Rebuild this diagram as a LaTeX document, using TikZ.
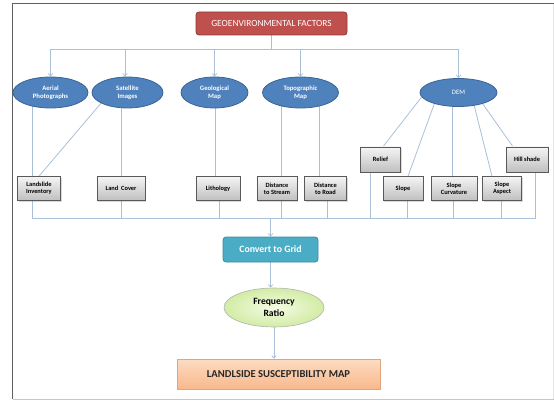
\documentclass[tikz,border=0pt]{standalone}
\usepackage{fontspec}
\setmainfont{Carlito}
\usetikzlibrary{shapes.geometric,arrows.meta,shadows,backgrounds}
\definecolor{connc}{HTML}{A9C0D8}
\definecolor{ellfill}{HTML}{4F81BD}
\definecolor{elldraw}{HTML}{3A6496}
\definecolor{redfill}{HTML}{C0504D}
\definecolor{reddraw}{HTML}{8E3A38}
\definecolor{aquafill}{HTML}{4BACC6}
\definecolor{aquadraw}{HTML}{3A8BA1}
\definecolor{greenout}{HTML}{D2ECA4}
\definecolor{greentop}{HTML}{F4FBE6}
\definecolor{peachtop}{HTML}{FCDCC2}
\definecolor{peachbot}{HTML}{F8B88C}
\definecolor{peachdraw}{HTML}{E3A57C}
\begin{document}
\begin{tikzpicture}[x=1pt,y=-1pt,
  conn/.style={draw=connc, line width=0.8pt},
  arr/.style={conn, -{Straight Barb[length=2.5pt,width=4.5pt]}},
  ell/.style={ellipse, fill=ellfill, draw=elldraw, line width=0.8pt, text=white,
    font=\fontsize{6.7}{7.6}\selectfont\bfseries, align=center, inner sep=0pt},
  gbox/.style={rectangle, top color=gray!8, bottom color=gray!50, draw=gray!70!black,
    line width=0.6pt, font=\fontsize{6.4}{7.2}\selectfont\bfseries, align=center,
    inner sep=0pt, minimum height=24pt,
    drop shadow={shadow xshift=1pt, shadow yshift=-1pt, opacity=0.3}},
]
\useasboundingbox (0,0) rectangle (554,401);
% frame
\draw[gray!75!black, line width=1pt] (12.5,399) -- (12.5,4) -- (554,4);
\draw[gray!45, line width=1.2pt] (12.5,399.5) -- (554,399.5);
\draw[gray!20, line width=0.8pt] (553,4) -- (553,399);

% top box
\node[rectangle, rounded corners=3pt, fill=redfill, draw=reddraw, line width=0.8pt,
  minimum width=151pt, minimum height=23pt, text=white,
  font=\fontsize{9.4}{10}\selectfont] (geo) at (271.5,23.5) {GEOENVIRONMENTAL FACTORS};

% ellipses
\node[ell, minimum width=75pt, minimum height=31pt] (aer) at (50.5,92.5) {Aerial\\Photographs};
\node[ell, minimum width=71pt, minimum height=31pt] (sat) at (127.5,92.5) {Satellite\\Images};
\node[ell, minimum width=67pt, minimum height=31pt] (gmap) at (214.5,92.5) {Geological\\Map};
\node[ell, minimum width=76pt, minimum height=31pt] (topo) at (300.5,92.5) {Topographic\\Map};
\node[ell, minimum width=77pt, minimum height=28pt, font=\fontsize{6.7}{7.6}\selectfont] (dem) at (458.5,92.5) {DEM};

% boxes row 1
\node[gbox, minimum width=43pt] (inv) at (39,188.5) {Landslide\\Inventory};
\node[gbox, minimum width=48pt] (lc) at (121,188.5) {Land\ \ Cover};
\node[gbox, minimum width=44pt] (lith) at (218,188.5) {Lithology};
\node[gbox, minimum width=40pt] (dstr) at (277,188.5) {Distance\\to Stream};
\node[gbox, minimum width=42pt] (droad) at (325.5,188.5) {Distance\\to Road};
\node[gbox, minimum width=40pt] (slope) at (403,188.5) {Slope};
\node[gbox, minimum width=46pt] (scurv) at (454,188.5) {Slope\\Curvature};
\node[gbox, minimum width=39pt] (sasp) at (502,188.5) {Slope\\Aspect};
% boxes row 2
\node[gbox, minimum width=40pt, minimum height=25pt] (relief) at (380.5,159.5) {Relief};
\node[gbox, minimum width=42pt, minimum height=25pt] (hill) at (527,159.5) {Hill shade};

% lower chain
\node[rectangle, rounded corners=3pt, fill=aquafill, draw=aquadraw, line width=0.8pt,
  minimum width=95pt, minimum height=25pt, text=white,
  font=\fontsize{9.8}{10}\selectfont\bfseries] (grid) at (270.5,249.5) {Convert to Grid};
\node[ellipse, inner color=greentop, outer color=greenout, draw=gray!60, line width=0.6pt,
  minimum width=100pt, minimum height=39pt, align=center, inner sep=0pt,
  font=\fontsize{9.6}{11.5}\selectfont\bfseries] (fr) at (274,307.5) {Frequency\\Ratio};
\node[rectangle, top color=peachtop, bottom color=peachbot, draw=peachdraw, line width=0.6pt,
  minimum width=203pt, minimum height=30pt,
  font=\fontsize{10.6}{11}\selectfont\bfseries, text=black!85] (lsm) at (278.5,374) {LANDLSIDE SUSCEPTIBILITY MAP};

% helper coordinates
\coordinate (top) at (0,49);
\coordinate (bus) at (0,218.5);
\coordinate (xa) at (32,0);
\coordinate (xb) at (121,0);
\coordinate (xc) at (215,0);
\coordinate (xc2) at (219,0);
\coordinate (xd) at (281,0);
\coordinate (xe) at (319,0);
\coordinate (xe2) at (327,0);
\coordinate (xf) at (370,0);
\coordinate (xg) at (407,0);
\coordinate (xh) at (453,0);
\coordinate (xi) at (501,0);
\coordinate (xj) at (535,0);

\begin{pgfonlayer}{background}
% top distribution
\draw[conn] (geo.south) -- (top -| geo.south);
\draw[conn] (top -| aer.north) -- (top -| dem.north);
\foreach \n in {aer,gmap,topo,dem}
  \draw[arr] (top -| \n.north) -- (\n.north);
\draw[arr] (top -| 125,0) -- (sat.north -| 125,0);
% ellipse -> boxes
\draw[conn] (aer.center -| xa) -- (inv.north -| xa);
\draw[conn] (sat.202) -- (inv.north);
\draw[conn] (sat.center -| xb) -- (lc.north -| xb);
\draw[conn] (gmap.center -| xc) -- (lith.north -| xc);
\draw[conn] (topo.center -| xd) -- (dstr.north -| xd);
\draw[conn] (topo.center -| xe) -- (droad.north -| xe);
\draw[conn] (dem.187) -- (relief.north -| 383,0);
\draw[conn] (dem.205) -- (slope.north -| 408,0);
\draw[conn] (dem.center -| 452,0) -- (scurv.north -| 452,0);
\draw[conn] (dem.-40) -- (sasp.north -| 492,0);
\draw[conn] (dem.-25) -- (hill.north -| 513,0);
% boxes -> bus
\draw[conn] (inv.south -| xa) -- (bus -| xa);
\draw[conn] (lc.south -| xb) -- (bus -| xb);
\draw[conn] (lith.south -| xc2) -- (bus -| xc2);
\draw[conn] (dstr.south -| xd) -- (bus -| xd);
\draw[conn] (droad.south -| xe2) -- (bus -| xe2);
\draw[conn] (relief.south -| xf) -- (bus -| xf);
\draw[conn] (slope.south -| xg) -- (bus -| xg);
\draw[conn] (scurv.south -| xh) -- (bus -| xh);
\draw[conn] (sasp.south -| xi) -- (bus -| xi);
\draw[conn] (hill.south -| xj) -- (bus -| xj);
\draw[conn] (bus -| xa) -- (bus -| xj);
% chain
\draw[arr] (bus -| grid.north) -- (grid.north);
\draw[arr] (grid.south) -- (fr.north -| grid.south);
\draw[arr] (fr.south) -- (lsm.north -| fr.south);
\end{pgfonlayer}
\end{tikzpicture}
\end{document}
